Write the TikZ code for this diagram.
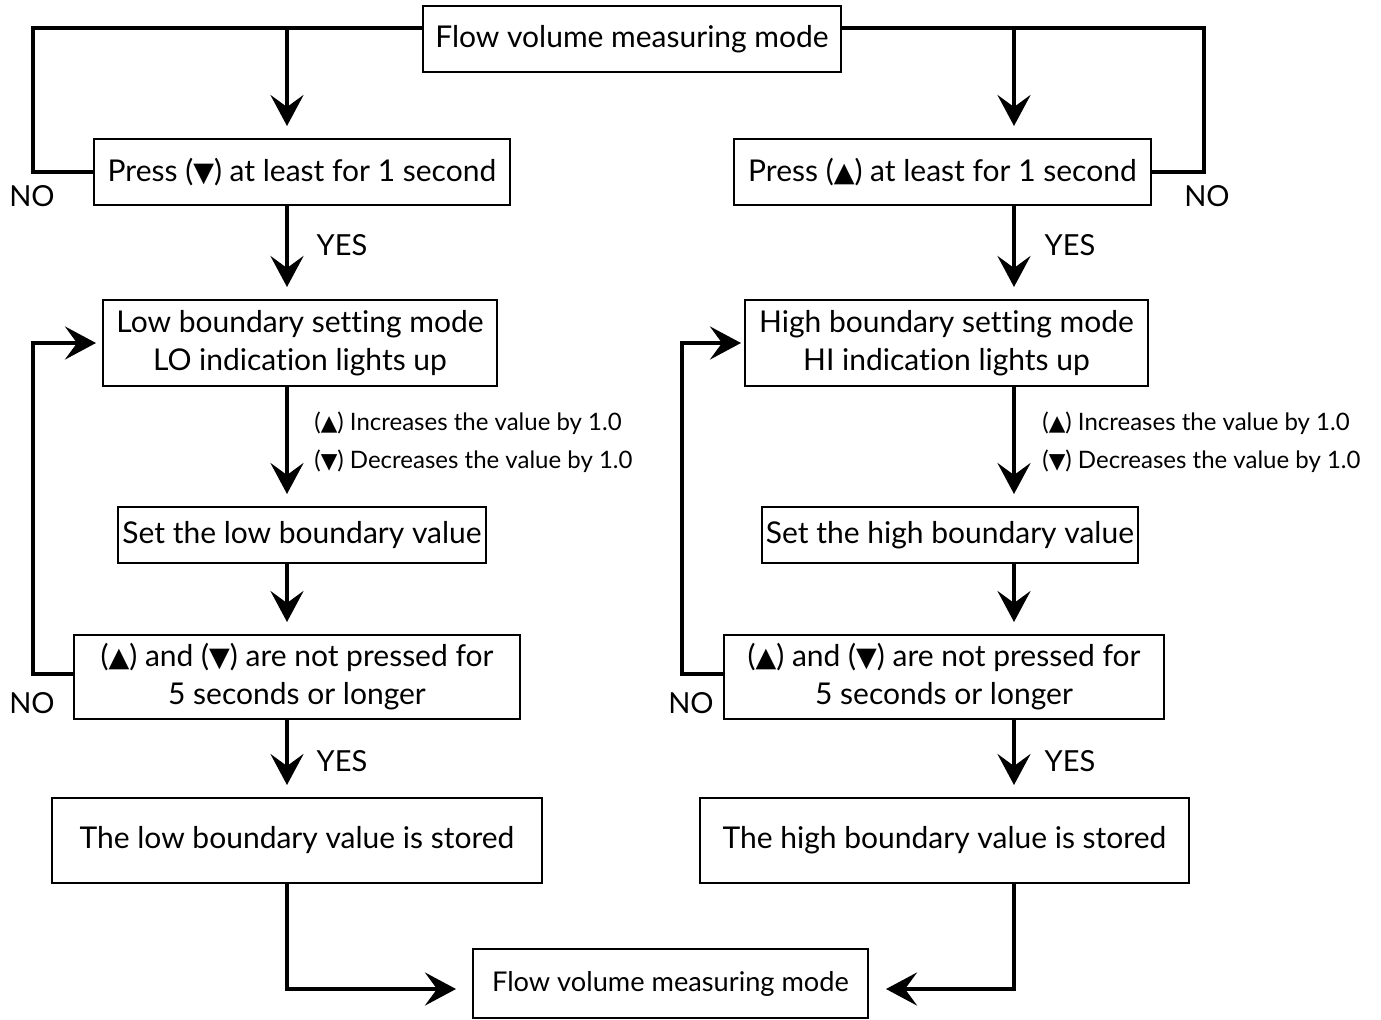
\documentclass[tikz,border=0pt]{standalone}
\usepackage{fontspec}
\setmainfont[Ligatures=NoCommon]{Lato}
\newfontfamily\symfont[Scale=0.9]{DejaVu Sans}
\newcommand{\uptri}{{\symfont ▲}}
\newcommand{\dntri}{{\symfont ▼}}
\usetikzlibrary{arrows.meta}

\tikzset{
  box/.style={draw, line width=1pt, align=center, inner sep=0pt, font=\fontsize{15}{19}\selectfont},
  txt/.style={font=\fontsize{14.5}{19}\selectfont},
  note/.style={anchor=west, inner sep=0pt, font=\fontsize{12}{19}\selectfont},
  link/.style={line width=2pt},
  arr/.style={line width=2pt, -{Stealth[length=15.5pt, width=16.5pt, inset=6pt]}, shorten >=6pt}
}

\begin{document}
\begin{tikzpicture}[x=0.5pt, y=-0.5pt]
\useasboundingbox (0,0) rectangle (1381,1019);

% boxes
\node[box, minimum width=209pt, minimum height=33pt] (top) at (632,39) {Flow volume measuring mode};
\node[box, minimum width=208pt, minimum height=33pt] (pdn) at (302,172) {Press (\dntri) at least for 1 second};
\node[box, minimum width=208.5pt, minimum height=33pt] (pup) at (942.5,172) {Press (\uptri) at least for 1 second};
\node[box, minimum width=197pt, minimum height=43pt] (lomode) at (300,343) {Low boundary setting mode\\LO indication lights up};
\node[box, minimum width=201.5pt, minimum height=43pt] (himode) at (946.5,343) {High boundary setting mode\\HI indication lights up};
\node[box, minimum width=184pt, minimum height=28pt] (loset) at (302,535) {Set the low boundary value};
\node[box, minimum width=188pt, minimum height=28pt] (hiset) at (950,535) {Set the high boundary value};
\node[box, minimum width=223pt, minimum height=42pt] (lowait) at (297,677) {(\uptri) and (\dntri) are not pressed for\\5 seconds or longer};
\node[box, minimum width=220pt, minimum height=42pt] (hiwait) at (944,677) {(\uptri) and (\dntri) are not pressed for\\5 seconds or longer};
\node[box, minimum width=245pt, minimum height=42.5pt] (lostore) at (297,840.5) {The low boundary value is stored};
\node[box, minimum width=244.5pt, minimum height=42.5pt] (histore) at (944.5,840.5) {The high boundary value is stored};
\node[box, minimum width=197.5pt, minimum height=34.5pt, font=\fontsize{13.6}{16}\selectfont] (bottom) at (670.5,983.5) {Flow volume measuring mode};

% labels
\node[txt] (no1) at (32,196) {NO};
\node[txt] (no2) at (1207,196) {NO};
\node[txt] (no3) at (32,703) {NO};
\node[txt] (no4) at (691,703) {NO};
\node[txt] (yes1) at (342,245) {YES};
\node[txt] (yes2) at (1070,245) {YES};
\node[txt] (yes3) at (342,761) {YES};
\node[txt] (yes4) at (1070,761) {YES};
\node[note] (inc1) at (314,423) {(\uptri) Increases the value by 1.0};
\node[note] (dec1) at (314,461) {(\dntri) Decreases the value by 1.0};
\node[note] (inc2) at (1042,423) {(\uptri) Increases the value by 1.0};
\node[note] (dec2) at (1042,461) {(\dntri) Decreases the value by 1.0};

% helper points
\coordinate (lc) at (287,0);
\coordinate (rc) at (1014,0);
\coordinate (lt) at (33,28);
\coordinate (rt) at (1204,28);
\coordinate (lb) at (33,674);
\coordinate (rb) at (682,674);
\coordinate (bl) at (0,989);

% connectors
\draw[link] (top.west |- lt) -- (lt) |- (pdn.west);
\draw[link] (top.east |- rt) -- (rt) |- (pup.east);
\draw[arr] (lc |- lt) -- (pdn.north -| lc);
\draw[arr] (rc |- rt) -- (pup.north -| rc);
\draw[arr] (pdn.south -| lc) -- (lomode.north -| lc);
\draw[arr] (pup.south -| rc) -- (himode.north -| rc);
\draw[arr] (lomode.south -| lc) -- (loset.north -| lc);
\draw[arr] (himode.south -| rc) -- (hiset.north -| rc);
\draw[arr] (loset.south -| lc) -- (lowait.north -| lc);
\draw[arr] (hiset.south -| rc) -- (hiwait.north -| rc);
\draw[arr] (lowait.south -| lc) -- (lostore.north -| lc);
\draw[arr] (hiwait.south -| rc) -- (histore.north -| rc);
\draw[arr, shorten >=3pt] (lowait.west |- lb) -- (lb) |- (lomode.west);
\draw[arr, shorten >=1.5pt] (hiwait.west |- rb) -- (rb) |- (himode.west);
\draw[arr, shorten >=8pt] (lostore.south -| lc) -- (lc |- bl) -- (bottom.west |- bl);
\draw[arr, shorten >=8.5pt] (histore.south -| rc) -- (rc |- bl) -- (bottom.east |- bl);
\end{tikzpicture}
\end{document}
